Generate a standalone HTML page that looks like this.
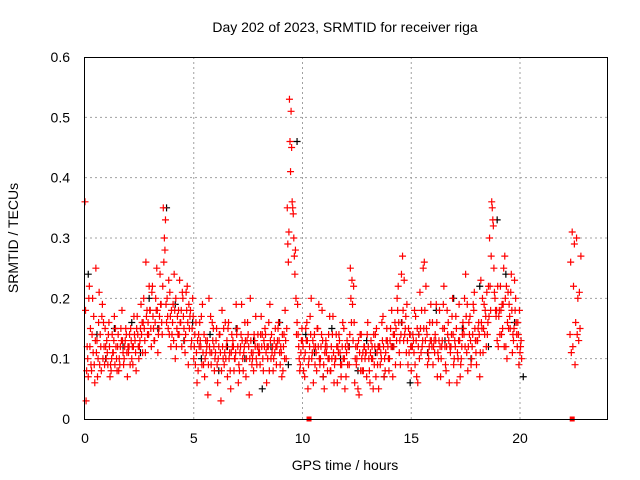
<!DOCTYPE html>
<html><head><meta charset="utf-8"><style>
body{margin:0;background:#fff}
svg{display:block;font-family:"Liberation Sans",sans-serif}
</style></head><body>
<svg id="chart" width="640" height="480" viewBox="0 0 640 480">
<rect width="640" height="480" fill="#fff"/>
<text x="345" y="32" font-size="14" text-anchor="middle">Day 202 of 2023, SRMTID for receiver riga</text>
<text x="345" y="470" font-size="14" text-anchor="middle">GPS time / hours</text>
<text x="18" y="238" font-size="14" text-anchor="middle" transform="rotate(-90 18 238)">SRMTID / TECUs</text>
<g id="grid"></g>
<g id="ticks"></g>
<g id="marks"></g>
<rect x="84.5" y="57.5" width="523" height="362" fill="none" stroke="#000" stroke-width="1"/>
</svg>
<script>
const xTicks=[0,5,10,15,20];
const yTicks=[0,0.1,0.2,0.3,0.4,0.5,0.6];
const yTickLabels=["0","0.1","0.2","0.3","0.4","0.5","0.6"];
const redA=[0.36,0.12,0.22,0.08,0.17,0.25,0.10,0.14,0.19,0.09,
0.13,0.16,0.08,0.11,0.15,0.12,0.09,0.18,0.10,0.14,
0.11,0.15,0.09,0.13,0.17,0.12,0.14,0.20,0.26,0.16,
0.18,0.22,0.13,0.25,0.15,0.19,0.35,0.33,0.17,0.21,
0.14,0.24,0.12,0.18,0.16,0.20,0.11,0.22,0.15,0.13,
0.10,0.16,0.08,0.13,0.19,0.07,0.12,0.20,0.09,0.15,
0.11,0.06,0.14,0.18,0.09,0.12,0.16,0.05,0.13,0.10,
0.15,0.08,0.19,0.11,0.07,0.14,0.20,0.10,0.13,0.09,
0.12,0.17,0.08,0.14,0.10,0.19,0.11,0.13,0.09,0.16,
0.12,0.08,0.18,0.35,0.53,0.45,0.30,0.20,0.14,0.09,
0.13,0.07,0.16,0.10,0.20,0.06,0.12,0.15,0.09,0.18,
0.05,0.11,0.14,0.08,0.17,0.10,0.06,0.13,0.09,0.15,
0.07,0.12,0.25,0.19,0.06,0.10,0.04,0.14,0.08,0.11,
0.16,0.06,0.12,0.09,0.15,0.05,0.11,0.17,0.08,0.13,
0.10,0.18,0.12,0.15,0.22,0.09,0.27,0.14,0.19,0.11,
0.08,0.13,0.17,0.06,0.21,0.12,0.26,0.15,0.10,0.19,
0.09,0.14,0.07,0.18,0.12,0.22,0.08,0.16,0.11,0.20,
0.13,0.06,0.19,0.10,0.15,0.24,0.08,0.17,0.12,0.21,
0.09,0.16,0.23,0.11,0.18,0.14,0.30,0.36,0.25,0.17,
0.12,0.22,0.15,0.27,0.10,0.19,0.24,0.13,0.20,0.16,
0.11];
const redB=[0.03,0.07,0.15,0.20,0.06,0.13,0.21,0.08,0.16,0.12,
0.09,0.07,0.14,0.17,0.10,0.08,0.15,0.11,0.13,0.07,
0.14,0.10,0.17,0.08,0.12,0.15,0.11,0.13,0.18,0.22,
0.12,0.15,0.20,0.11,0.24,0.14,0.30,0.16,0.23,0.12,
0.19,0.10,0.17,0.23,0.12,0.15,0.21,0.09,0.18,0.20,
0.14,0.06,0.12,0.17,0.09,0.13,0.04,0.11,0.16,0.08,
0.15,0.12,0.03,0.10,0.16,0.07,0.11,0.14,0.08,0.19,
0.06,0.12,0.10,0.16,0.13,0.04,0.11,0.08,0.17,0.14,
0.09,0.14,0.12,0.06,0.16,0.10,0.08,0.15,0.13,0.11,
0.07,0.14,0.10,0.26,0.41,0.35,0.24,0.16,0.10,0.13,
0.08,0.15,0.05,0.17,0.11,0.14,0.08,0.19,0.12,0.07,
0.12,0.08,0.17,0.10,0.06,0.14,0.11,0.09,0.16,0.05,
0.13,0.09,0.16,0.22,0.12,0.05,0.14,0.08,0.12,0.07,
0.10,0.13,0.05,0.14,0.09,0.12,0.16,0.07,0.13,0.10,
0.15,0.07,0.16,0.20,0.11,0.24,0.13,0.17,0.09,0.14,
0.12,0.18,0.07,0.14,0.11,0.25,0.13,0.09,0.16,0.12,
0.13,0.19,0.10,0.07,0.15,0.12,0.18,0.06,0.14,0.09,
0.17,0.10,0.07,0.14,0.20,0.11,0.16,0.09,0.19,0.13,
0.13,0.07,0.15,0.19,0.12,0.22,0.18,0.33,0.20,0.13,
0.18,0.14,0.25,0.12,0.21,0.15,0.11,0.23,0.14,0.09,
0.13];
const redC=[0.18,0.10,0.12,0.14,0.09,0.11,0.16,0.12,0.10,0.15,
0.11,0.12,0.10,0.13,0.12,0.14,0.12,0.13,0.12,0.11,
0.12,0.13,0.12,0.11,0.14,0.13,0.16,0.15,0.17,0.14,
0.15,0.17,0.16,0.18,0.17,0.16,0.26,0.19,0.15,0.17,
0.16,0.18,0.15,0.14,0.18,0.17,0.14,0.16,0.17,0.15,
0.12,0.11,0.14,0.12,0.11,0.10,0.13,0.12,0.11,0.12,
0.13,0.10,0.11,0.12,0.11,0.13,0.10,0.11,0.12,0.11,
0.12,0.11,0.13,0.12,0.10,0.12,0.13,0.11,0.12,0.12,
0.11,0.12,0.13,0.11,0.12,0.13,0.12,0.11,0.12,0.13,
0.11,0.12,0.13,0.29,0.46,0.36,0.27,0.14,0.12,0.11,
0.12,0.11,0.13,0.12,0.10,0.12,0.11,0.12,0.10,0.13,
0.11,0.12,0.10,0.12,0.11,0.10,0.12,0.11,0.12,0.10,
0.11,0.12,0.20,0.13,0.10,0.12,0.11,0.10,0.12,0.11,
0.12,0.11,0.10,0.12,0.11,0.12,0.10,0.12,0.11,0.12,
0.13,0.12,0.14,0.13,0.16,0.14,0.18,0.15,0.13,0.14,
0.12,0.11,0.13,0.12,0.15,0.13,0.18,0.14,0.12,0.13,
0.12,0.13,0.11,0.12,0.13,0.15,0.12,0.13,0.12,0.14,
0.12,0.11,0.13,0.12,0.14,0.17,0.12,0.13,0.14,0.15,
0.13,0.14,0.16,0.15,0.17,0.16,0.22,0.35,0.21,0.18,
0.17,0.18,0.19,0.20,0.16,0.17,0.18,0.15,0.16,0.14,
0.12];
const redD=[0.08,0.20,0.09,0.11,0.13,0.07,0.09,0.17,0.12,0.10,
0.14,0.09,0.11,0.09,0.08,0.10,0.13,0.09,0.15,0.12,
0.09,0.12,0.14,0.15,0.10,0.19,0.16,0.11,0.14,0.18,
0.21,0.13,0.18,0.14,0.19,0.22,0.28,0.20,0.14,0.18,
0.13,0.20,0.14,0.16,0.21,0.13,0.18,0.19,0.12,0.17,
0.09,0.13,0.16,0.09,0.14,0.11,0.09,0.17,0.13,0.10,
0.09,0.14,0.08,0.15,0.10,0.15,0.08,0.12,0.10,0.14,
0.09,0.14,0.08,0.13,0.16,0.10,0.09,0.14,0.10,0.11,
0.14,0.10,0.15,0.12,0.08,0.14,0.10,0.12,0.15,0.09,
0.14,0.10,0.15,0.31,0.51,0.34,0.28,0.19,0.08,0.15,
0.10,0.13,0.09,0.14,0.13,0.09,0.15,0.10,0.14,0.09,
0.13,0.10,0.08,0.14,0.09,0.12,0.14,0.07,0.10,0.12,
0.09,0.14,0.23,0.16,0.09,0.13,0.08,0.11,0.10,0.14,
0.08,0.10,0.14,0.07,0.12,0.09,0.13,0.10,0.15,0.08,
0.12,0.14,0.09,0.18,0.13,0.16,0.23,0.11,0.15,0.12,
0.14,0.09,0.15,0.10,0.18,0.15,0.22,0.11,0.13,0.16,
0.11,0.16,0.13,0.10,0.19,0.09,0.14,0.12,0.17,0.10,
0.15,0.13,0.09,0.16,0.12,0.19,0.14,0.10,0.18,0.11,
0.15,0.11,0.20,0.14,0.21,0.17,0.27,0.32,0.18,0.22,
0.14,0.19,0.12,0.22,0.15,0.21,0.14,0.18,0.12,0.18,
0.10];
const blackVals=[0.24,0.14,0.10,0.15,0.12,0.16,0.11,0.20,0.15,0.35,0.19,0.13,0.16,0.10,0.14,0.08,0.12,0.15,0.10,0.13,0.05,0.12,0.16,0.09,0.46,0.14,0.11,0.07,0.15,0.10,0.12,0.08,0.13,0.11,0.07,0.12,0.16,0.06,0.14,0.11,0.18,0.13,0.20,0.15,0.10,0.22,0.12,0.33,0.24,0.16,0.07];
const lateTimes=[22.3,22.33,22.36,22.4,22.43,22.46,22.5,22.53,22.56,22.6,22.63,22.66,22.7,22.73,22.76,22.8];
const lateVals=[0.14,0.26,0.11,0.31,0.12,0.22,0.29,0.09,0.16,0.30,0.14,0.20,0.13,0.21,0.15,0.27];
const zeroTimes=[10.3,22.4];

const NS="http://www.w3.org/2000/svg";
const X=t=>85+t*(522/24);
const Y=v=>419-v*(362/0.6);
const grid=document.getElementById('grid'),ticks=document.getElementById('ticks'),marks=document.getElementById('marks');
function mk(tag,attrs,parent){const e=document.createElementNS(NS,tag);for(const k in attrs)e.setAttribute(k,attrs[k]);parent.appendChild(e);return e;}
xTicks.forEach(t=>{
  if(t>0){const g=mk('line',{x1:X(t),x2:X(t),y1:57,y2:419,stroke:'#a0a0a0','stroke-dasharray':'2,3'},grid);
  
  }
  const l=mk('text',{x:X(t),y:443,'font-size':14,'text-anchor':'middle'},ticks);l.textContent=t;
  
  
});
yTicks.forEach((v,i)=>{
  if(v>0&&v<0.6){const g=mk('line',{x1:85,x2:607,y1:Y(v),y2:Y(v),stroke:'#a0a0a0','stroke-dasharray':'2,3'},grid);
  
  }
  const l=mk('text',{x:70,y:Y(v)+5,'font-size':14,'text-anchor':'end'},ticks);l.textContent=yTickLabels[i];
  
  
});
function plus(t,v,color){
  const x=X(t),y=Y(v);
  const p=mk('path',{d:`M${x-3.5},${y}H${x+3.5}M${x},${y-3.5}V${y+3.5}`,stroke:color,'stroke-width':1.2,fill:'none'},marks);
  
  
}
blackVals.forEach((v,i)=>plus(i*0.4+0.15,v,'#000'));
redA.forEach((v,i)=>plus(i*0.1,v,'#f00'));
redB.forEach((v,i)=>plus(i*0.1+0.05,v,'#f00'));
redC.forEach((v,i)=>plus(i*0.1+0.025,v,'#f00'));
redD.forEach((v,i)=>plus(i*0.1+0.075,v,'#f00'));
lateTimes.forEach((t,i)=>plus(t,lateVals[i],'#f00'));
zeroTimes.forEach(t=>{
  const r=mk('rect',{x:X(t)-2.5,y:Y(0)-2.5,width:5,height:5,fill:'#f00'},marks);
  
  
});
</script>
</body></html>
